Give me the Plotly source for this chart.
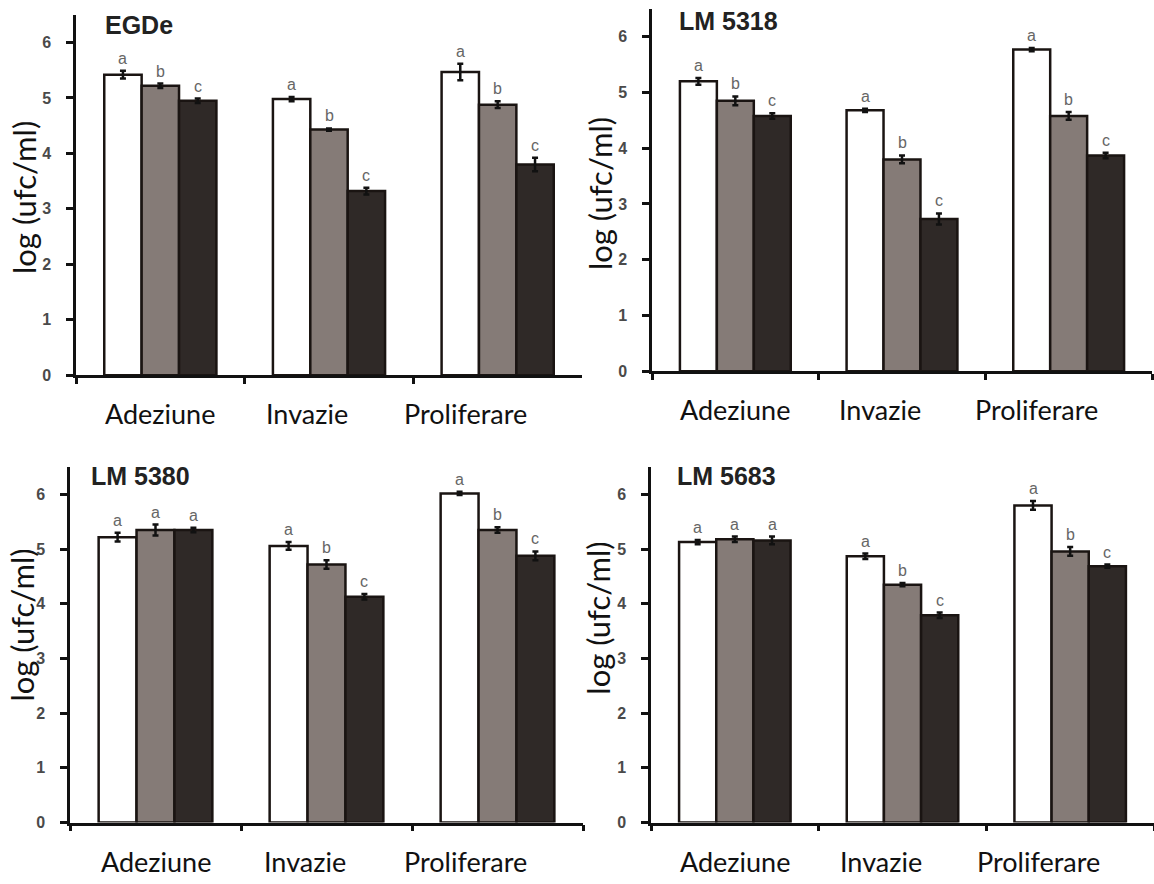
import plotly.graph_objects as go

W, H = 1154, 884

categories = ["Adeziune", "Invazie", "Proliferare"]
panel_titles = ["EGDe", "LM 5318", "LM 5380", "LM 5683"]

# three treatments per stage: white, grey, dark bars (log ufc/ml) and their errors
egde_white = [5.42, 4.98, 5.47]
egde_grey = [5.22, 4.43, 4.88]
egde_dark = [4.95, 3.32, 3.80]
egde_white_err = [0.07, 0.04, 0.15]
egde_grey_err = [0.04, 0.02, 0.06]
egde_dark_err = [0.04, 0.06, 0.12]

lm5318_white = [5.20, 4.68, 5.77]
lm5318_grey = [4.85, 3.80, 4.58]
lm5318_dark = [4.58, 2.73, 3.87]
lm5318_white_err = [0.06, 0.03, 0.03]
lm5318_grey_err = [0.08, 0.07, 0.07]
lm5318_dark_err = [0.05, 0.10, 0.05]

lm5380_white = [5.22, 5.06, 6.02]
lm5380_grey = [5.35, 4.72, 5.35]
lm5380_dark = [5.35, 4.13, 4.88]
lm5380_white_err = [0.08, 0.07, 0.03]
lm5380_grey_err = [0.10, 0.08, 0.05]
lm5380_dark_err = [0.04, 0.05, 0.08]

lm5683_white = [5.13, 4.87, 5.80]
lm5683_grey = [5.18, 4.35, 4.96]
lm5683_dark = [5.16, 3.79, 4.69]
lm5683_white_err = [0.04, 0.05, 0.08]
lm5683_grey_err = [0.05, 0.03, 0.08]
lm5683_dark_err = [0.07, 0.05, 0.03]

# significance letters, per stage: [white, grey, dark]
egde_letters = [["a", "b", "c"], ["a", "b", "c"], ["a", "b", "c"]]
lm5318_letters = [["a", "b", "c"], ["a", "b", "c"], ["a", "b", "c"]]
lm5380_letters = [["a", "a", "a"], ["a", "b", "c"], ["a", "b", "c"]]
lm5683_letters = [["a", "a", "a"], ["a", "b", "c"], ["a", "b", "c"]]

y_ticks = [0, 1, 2, 3, 4, 5, 6]
y_title = "log (ufc/ml)"

bar_colors = ["#ffffff", "#857b77", "#2f2927"]
outline = "#1a1412"
BARGAP = 0.335

panels = [
    dict(title=panel_titles[0],
         series=[egde_white, egde_grey, egde_dark],
         errs=[egde_white_err, egde_grey_err, egde_dark_err],
         letters=egde_letters,
         box=(76, 582, 15, 379), title_pos=(103, 25), ytitle_pos=(24, 200)),
    dict(title=panel_titles[1],
         series=[lm5318_white, lm5318_grey, lm5318_dark],
         errs=[lm5318_white_err, lm5318_grey_err, lm5318_dark_err],
         letters=lm5318_letters,
         box=(652, 1152, 9, 375), title_pos=(677, 21), ytitle_pos=(600, 196)),
    dict(title=panel_titles[2],
         series=[lm5380_white, lm5380_grey, lm5380_dark],
         errs=[lm5380_white_err, lm5380_grey_err, lm5380_dark_err],
         letters=lm5380_letters,
         box=(70, 583, 472, 831), title_pos=(89, 481), ytitle_pos=(22, 632)),
    dict(title=panel_titles[3],
         series=[lm5683_white, lm5683_grey, lm5683_dark],
         errs=[lm5683_white_err, lm5683_grey_err, lm5683_dark_err],
         letters=lm5683_letters,
         box=(651, 1154, 472, 831), title_pos=(675, 481), ytitle_pos=(598, 625)),
]

label_shift = [0, -22, -32]


def fx(px):
    return px / W


def fy(py):
    return 1 - py / H


fig = go.Figure()
layout = dict(
    width=W, height=H, autosize=False,
    margin=dict(l=0, r=0, t=0, b=0),
    paper_bgcolor="white", plot_bgcolor="white",
    barmode="group", bargap=BARGAP, bargroupgap=0,
    showlegend=False,
)
annotations = []

for n, p in enumerate(panels, start=1):
    xa = "x" if n == 1 else f"x{n}"
    ya = "y" if n == 1 else f"y{n}"
    x0, x1, ytop, ybot = p["box"]
    for k in range(3):
        fig.add_trace(go.Bar(
            x=categories, y=p["series"][k], xaxis=xa, yaxis=ya,
            marker=dict(color=bar_colors[k], line=dict(color=outline, width=2.5)),
            error_y=dict(type="data", array=p["errs"][k], color="#111",
                         thickness=2.5, width=3),
            hoverinfo="skip",
        ))
    layout["xaxis" if n == 1 else f"xaxis{n}"] = dict(
        domain=[fx(x0), fx(x1)], anchor=ya, type="category",
        categoryorder="array", categoryarray=categories,
        showline=True, linecolor="#111", linewidth=2.5,
        ticks="outside", tickson="boundaries", ticklen=6, tickwidth=2.5,
        tickcolor="#111", showticklabels=False, showgrid=False, zeroline=False,
        fixedrange=True,
    )
    layout["yaxis" if n == 1 else f"yaxis{n}"] = dict(
        domain=[fy(ybot), fy(ytop)], anchor=xa, range=[0, 6.5],
        tickvals=y_ticks, ticks="outside", ticklen=7, tickwidth=2.5,
        tickcolor="#111", showline=True, linecolor="#111", linewidth=2.5,
        showgrid=False, zeroline=False, ticklabelstandoff=12,
        tickfont=dict(family="Liberation Sans", size=16, color="#4a4a4a", weight="bold"),
        fixedrange=True,
    )

    # significance letters above each error bar
    w = (1 - BARGAP) / 3
    for i, cat in enumerate(categories):
        for k in range(3):
            annotations.append(dict(
                xref=xa, yref=ya, x=i + (k - 1) * w,
                y=p["series"][k][i] + p["errs"][k][i],
                text=p["letters"][i][k], showarrow=False,
                yanchor="bottom", yshift=2,
                font=dict(family="Liberation Sans", size=16, color="#666"),
            ))
        # stage labels under the axis
        annotations.append(dict(
            xref=xa, yref="paper", x=cat, y=fy(ybot + 39), xshift=label_shift[i],
            text=cat, showarrow=False, yanchor="middle", xanchor="center",
            font=dict(family="Lato", size=27, color="#111"),
        ))

    tx, ty = p["title_pos"]
    annotations.append(dict(
        xref="paper", yref="paper", x=fx(tx), y=fy(ty), text=p["title"],
        showarrow=False, xanchor="left", yanchor="middle",
        font=dict(family="Liberation Sans", size=25, color="#222", weight="bold"),
    ))
    yx, yy = p["ytitle_pos"]
    annotations.append(dict(
        xref="paper", yref="paper", x=fx(yx), y=fy(yy), text=y_title,
        showarrow=False, textangle=-90, xanchor="center", yanchor="middle",
        font=dict(family="Lato", size=31, color="#111"),
    ))

layout["annotations"] = annotations
fig.update_layout(**layout)
fig.write_html("out.html")
